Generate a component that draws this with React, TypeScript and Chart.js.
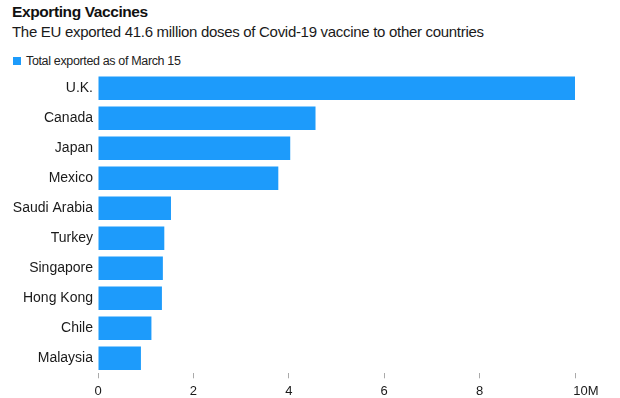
import React, { useEffect, useRef } from "react";
import { Chart, registerables } from "chart.js";

Chart.register(...registerables);

const titleText = "Exporting Vaccines";
const subtitleText = "The EU exported 41.6 million doses of Covid-19 vaccine to other countries";
const seriesLabel = "Total exported as of March 15";
const countries = ["U.K.", "Canada", "Japan", "Mexico", "Saudi Arabia", "Turkey", "Singapore", "Hong Kong", "Chile", "Malaysia"];
const dosesMillions = [10.0, 4.56, 4.03, 3.78, 1.53, 1.39, 1.36, 1.34, 1.12, 0.9];
const xTickValues = [0, 2, 4, 6, 8, 10];
const xTickLabels = ["0", "2", "4", "6", "8", "\u2007\u2007\u200710M"];

const BLUE = "#1d9bfb";
const FONT = '"Liberation Sans", Arial, Helvetica, sans-serif';

export default function App() {
  const ref = useRef<HTMLCanvasElement | null>(null);

  useEffect(() => {
    if (!ref.current) return;
    const chart = new Chart(ref.current, {
      type: "bar",
      data: {
        labels: countries,
        datasets: [
          {
            label: seriesLabel,
            data: dosesMillions,
            backgroundColor: BLUE,
            borderWidth: 0,
            barPercentage: 1,
            categoryPercentage: 0.78,
          },
        ],
      },
      options: {
        indexAxis: "y",
        animation: false,
        responsive: false,
        maintainAspectRatio: false,
        layout: { padding: { top: 73.3, left: 0, right: 45, bottom: 0 } },
        plugins: {
          legend: { display: false },
          tooltip: { enabled: false },
          title: { display: false },
        },
        scales: {
          x: {
            type: "linear",
            min: 0,
            max: 10,
            afterFit: (s: any) => {
              s.height = 24.7;
            },
            afterBuildTicks: (s: any) => {
              s.ticks = xTickValues.map((v) => ({ value: v }));
            },
            ticks: {
              callback: (v: any) => {
                const i = xTickValues.indexOf(Number(v));
                return i >= 0 ? xTickLabels[i] : "";
              },
              font: { family: FONT, size: 13 },
              color: "#1a1a1a",
              padding: 5,
              maxRotation: 0,
              autoSkip: false,
            },
            grid: {
              display: true,
              drawOnChartArea: false,
              drawTicks: true,
              tickLength: 5,
              tickColor: "#aaa",
              tickWidth: 1,
            },
            border: { display: false },
          },
          y: {
            afterFit: (s: any) => {
              s.width = 98;
            },
            ticks: {
              font: { family: FONT, size: 14 },
              color: "#1a1a1a",
              padding: 5,
              autoSkip: false,
            },
            grid: { display: false, drawTicks: false },
            border: { display: false },
          },
        },
      },
    });
    return () => chart.destroy();
  }, []);

  return (
    <div
      style={{
        position: "fixed",
        left: 0,
        top: 0,
        width: 620,
        height: 398,
        overflow: "hidden",
        background: "#fff",
        fontFamily: FONT,
      }}
    >
      <div
        style={{
          position: "absolute",
          left: 12,
          top: 4,
          fontSize: 15.5,
          fontWeight: "bold",
          letterSpacing: "-0.4px",
          lineHeight: "15.5px",
          color: "#111",
          whiteSpace: "nowrap",
        }}
      >
        {titleText}
      </div>
      <div
        style={{
          position: "absolute",
          left: 12,
          top: 24,
          fontSize: 15,
          letterSpacing: "-0.3px",
          lineHeight: "15px",
          color: "#1a1a1a",
          whiteSpace: "nowrap",
        }}
      >
        {subtitleText}
      </div>
      <div
        style={{
          position: "absolute",
          left: 13,
          top: 57,
          width: 8,
          height: 8,
          background: BLUE,
        }}
      />
      <div
        style={{
          position: "absolute",
          left: 26,
          top: 54.5,
          fontSize: 12.5,
          letterSpacing: "-0.35px",
          lineHeight: "12.5px",
          color: "#222",
          whiteSpace: "nowrap",
        }}
      >
        {seriesLabel}
      </div>
      <canvas
        ref={ref}
        width={620}
        height={398}
        style={{ position: "absolute", left: 0, top: 0, width: 620, height: 398 }}
      />
    </div>
  );
}
